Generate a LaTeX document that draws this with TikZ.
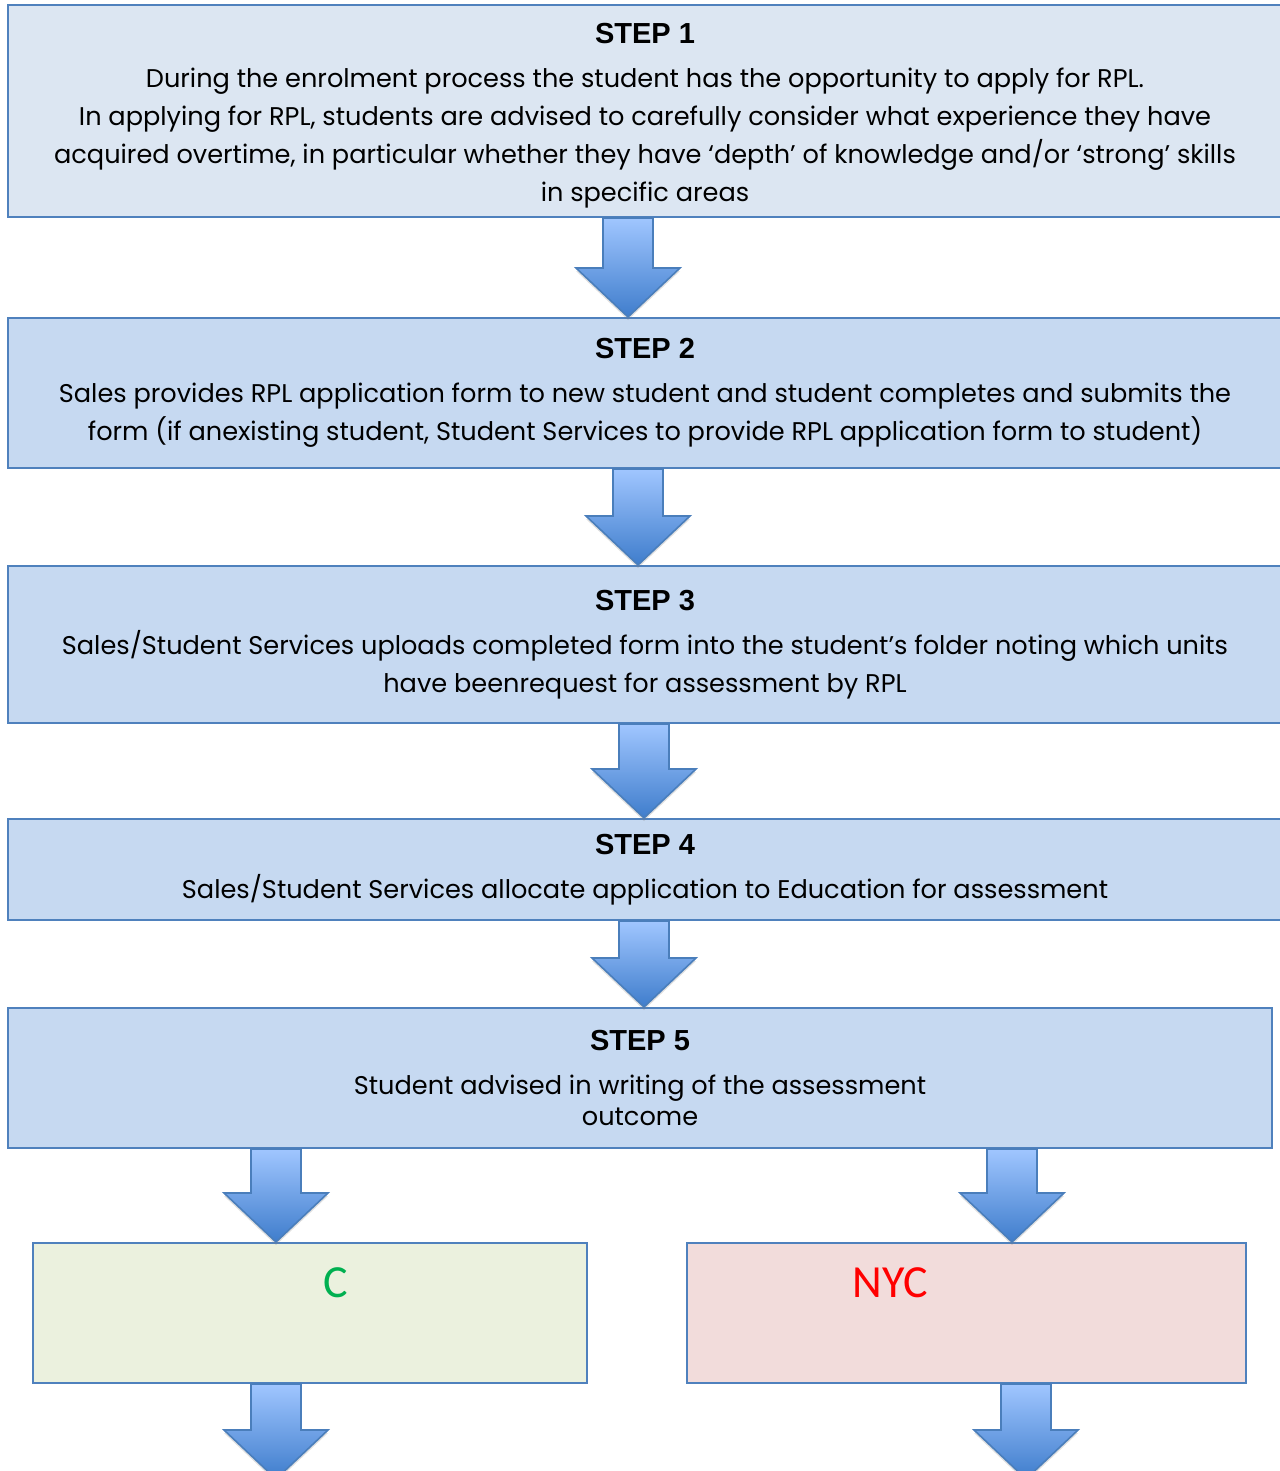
\documentclass[tikz,border=0pt]{standalone}
\usepackage{fontspec}
\usetikzlibrary{calc,shadows}
\newfontfamily\bodyfont{Poppins}
\newfontfamily\titlefont{Liberation Sans}
\newfontfamily\resultfont{Carlito}
\definecolor{boxline}{HTML}{4F81BD}
\definecolor{firstfill}{HTML}{DCE6F2}
\definecolor{stepfill}{HTML}{C6D9F1}
\definecolor{passfill}{HTML}{EBF1DE}
\definecolor{failfill}{HTML}{F2DCDB}
\definecolor{arrowtop}{HTML}{A0C6FF}
\definecolor{arrowbot}{HTML}{3F7DCC}
\definecolor{arrowline}{HTML}{4A7EBB}
\definecolor{passtext}{HTML}{00B050}
\definecolor{failtext}{HTML}{FF0000}
\tikzset{
  stepbox/.style={draw=boxline, line width=1pt, fill=stepfill, inner sep=0pt,
    align=center, font=\bodyfont\fontsize{12.8}{19}\selectfont},
  resultbox/.style={draw=boxline, line width=1pt, inner sep=0pt,
    minimum height=70pt},
  resultlabel/.style={font=\resultfont\fontsize{23}{26}\selectfont, inner sep=0pt},
  blockarrow/.style={top color=arrowtop, bottom color=arrowbot, draw=arrowline,
    line width=0.8pt, line join=miter,
    drop shadow={shadow xshift=0pt, shadow yshift=-1.5pt, opacity=0.25}}
}
\newcommand{\steptitle}[1]{{\titlefont\bfseries\fontsize{14.5}{22}\selectfont #1}\\[3pt]}
% block arrow: x from #1, from the top of #2 down to the tip at #3
\newcommand{\flowarrow}[3]{%
  \coordinate (t) at (#2 -| #1);
  \coordinate (b) at (#3 -| #1);
  \path[blockarrow] ($(t)+(-25,0)$) -- ($(t)+(25,0)$) -- ($(b)+(25,-49)$)
    -- ($(b)+(52,-49)$) -- (b) -- ($(b)+(-52,-49)$) -- ($(b)+(-25,-49)$) -- cycle;
}
\begin{document}
\begin{tikzpicture}[x=0.5pt, y=-0.5pt]
  \useasboundingbox (0,0) rectangle (1279,1471);

  % steps
  \node[stepbox, fill=firstfill, minimum width=637pt, minimum height=106pt] (s1) at (645,111)
    {\steptitle{\rule{0pt}{14.5pt}STEP 1}During the enrolment process the student has the opportunity to apply for RPL.\\
     In applying for RPL, students are advised to carefully consider what experience they have\\
     acquired overtime, in particular whether they have ‘depth’ of knowledge and/or ‘strong’ skills\\
     in specific areas};
  \node[stepbox, minimum width=637pt, minimum height=75pt] (s2) at (645,393)
    {\steptitle{STEP 2}Sales provides RPL application form to new student and student completes and submits the\\
     form (if anexisting student, Student Services to provide RPL application form to student)};
  \node[stepbox, minimum width=637pt, minimum height=78.5pt] (s3) at (645,644.5)
    {\steptitle{STEP 3}Sales/Student Services uploads completed form into the student’s folder noting which units\\
     have beenrequest for assessment by RPL};
  \node[stepbox, minimum width=637pt, minimum height=50.5pt] (s4) at (645,869.5)
    {\steptitle{STEP 4}Sales/Student Services allocate application to Education for assessment};
  \node[stepbox, minimum width=632pt, minimum height=70pt] (s5) at (640,1078)
    {\steptitle{STEP 5}Student advised in writing of the assessment\\[-3.5pt]
     outcome};

  % outcomes
  \node[resultbox, fill=passfill, minimum width=277pt] (pass) at (310,1313) {};
  \node[resultbox, fill=failfill, minimum width=279.5pt] (fail) at (966.5,1313) {};
  \node[resultlabel, text=passtext] (passlabel) at (336,1283) {C};
  \node[resultlabel, text=failtext] (faillabel) at (890,1283) {NYC};

  % arrows
  \coordinate (a1) at (628,0);
  \coordinate (a2) at (638,0);
  \coordinate (a3) at (644,0);
  \coordinate (a4) at (276,0);
  \coordinate (a5) at (1012,0);
  \coordinate (a6) at (1026,0);
  \coordinate (passend) at (276,1479);
  \coordinate (failend) at (1026,1479);

  \flowarrow{a1}{s1.south}{s2.north}
  \flowarrow{a2}{s2.south}{s3.north}
  \flowarrow{a3}{s3.south}{s4.north}
  \flowarrow{a3}{s4.south}{s5.north}
  \flowarrow{a4}{s5.south}{pass.north}
  \flowarrow{a5}{s5.south}{fail.north}
  \flowarrow{a4}{pass.south}{passend}
  \flowarrow{a6}{fail.south}{failend}
\end{tikzpicture}
\end{document}
